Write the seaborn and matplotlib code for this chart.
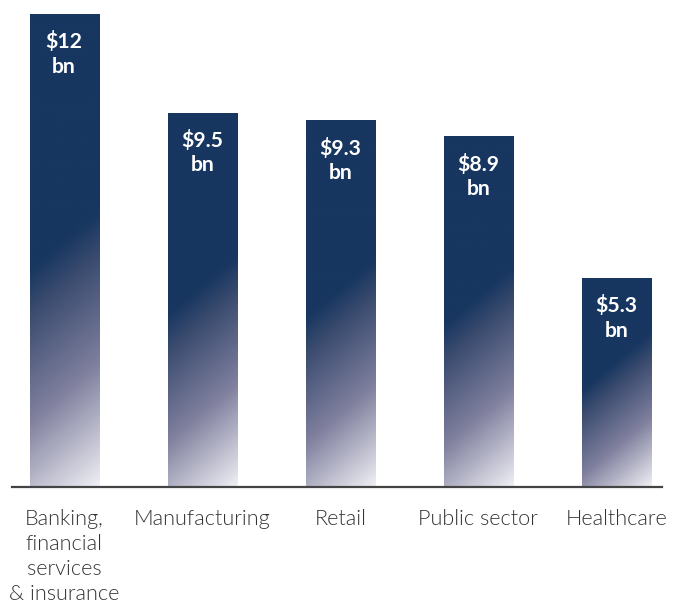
import numpy as np
import pandas as pd
import matplotlib
matplotlib.use("Agg")
import matplotlib.pyplot as plt
from matplotlib.colors import LinearSegmentedColormap
import seaborn as sns

# Sector spend (US$ billions)
sectors = ["Banking,\nfinancial\nservices\n& insurance", "Manufacturing", "Retail",
           "Public sector", "Healthcare"]
values = [12, 9.5, 9.3, 8.9, 5.3]
value_labels = ["$12\nbn", "$9.5\nbn", "$9.3\nbn", "$8.9\nbn", "$5.3\nbn"]

NAVY = "#17365f"
sns.set_theme(style="white")
plt.rcParams["font.family"] = ["Lato", "DejaVu Sans"]

W, H = 681, 603
fig = plt.figure(figsize=(W / 100, H / 100), dpi=100)
ax = fig.add_axes([12 / W, 116 / H, 650 / W, 473 / H])

df = pd.DataFrame({"sector": sectors, "value": values})
sns.barplot(data=df, x="sector", y="value", ax=ax, width=0.5,
            color=NAVY, saturation=1, errorbar=None)
ax.set_xlim(-0.377, 4.33)
ax.set_ylim(0, 12)

# Diagonal fade: navy at top, washing out towards the bottom-right corner
fade = LinearSegmentedColormap.from_list(
    "fade",
    [(0.0, (0.94, 0.94, 0.96)),
     (0.45, (0.50, 0.50, 0.62)),
     (0.85, (0.22, 0.29, 0.43)),
     (1.0, (23 / 255, 54 / 255, 96 / 255))])

for patch in ax.patches:
    x0, y0 = patch.get_x(), patch.get_y()
    w, h = patch.get_width(), patch.get_height()
    (px0, py0), (px1, py1) = ax.transData.transform([(x0, y0), (x0 + w, y0 + h)])
    w_px, h_px = px1 - px0, py1 - py0
    ny, nx = 600, 120
    xp = np.linspace(0, w_px, nx)[None, :]
    yp = np.linspace(h_px, 0, ny)[:, None]
    d = yp + 0.85 * (w_px - xp)
    d_dark = 0.46 * h_px + 60
    t = np.clip(d / d_dark, 0, 1)
    im = ax.imshow(t, cmap=fade, vmin=0, vmax=1, extent=[x0, x0 + w, y0, y0 + h],
                   aspect="auto", interpolation="bilinear", zorder=patch.get_zorder() + 0.1)
    im.set_clip_path(patch)
    ax.set_xlim(-0.377, 4.33)
    ax.set_ylim(0, 12)

for i, (v, lab) in enumerate(zip(values, value_labels)):
    ax.annotate(lab, xy=(i, v), xytext=(0, -12.5), textcoords="offset points",
                ha="center", va="top", color="white", fontsize=15.2,
                fontweight="bold", linespacing=1.27, zorder=5)

for side in ["top", "right", "left"]:
    ax.spines[side].set_visible(False)
ax.spines["bottom"].set_color("#444444")
ax.spines["bottom"].set_linewidth(1.6)
ax.set_yticks([])
ax.set_xlabel("")
ax.set_ylabel("")
ax.tick_params(axis="x", length=0, pad=16, labelsize=15.6, labelcolor="#333333")
for lbl in ax.get_xticklabels():
    lbl.set_fontweight(300)
    lbl.set_linespacing(1.3)
    lbl.set_va("top")

fig.savefig("out.png", dpi=100)
